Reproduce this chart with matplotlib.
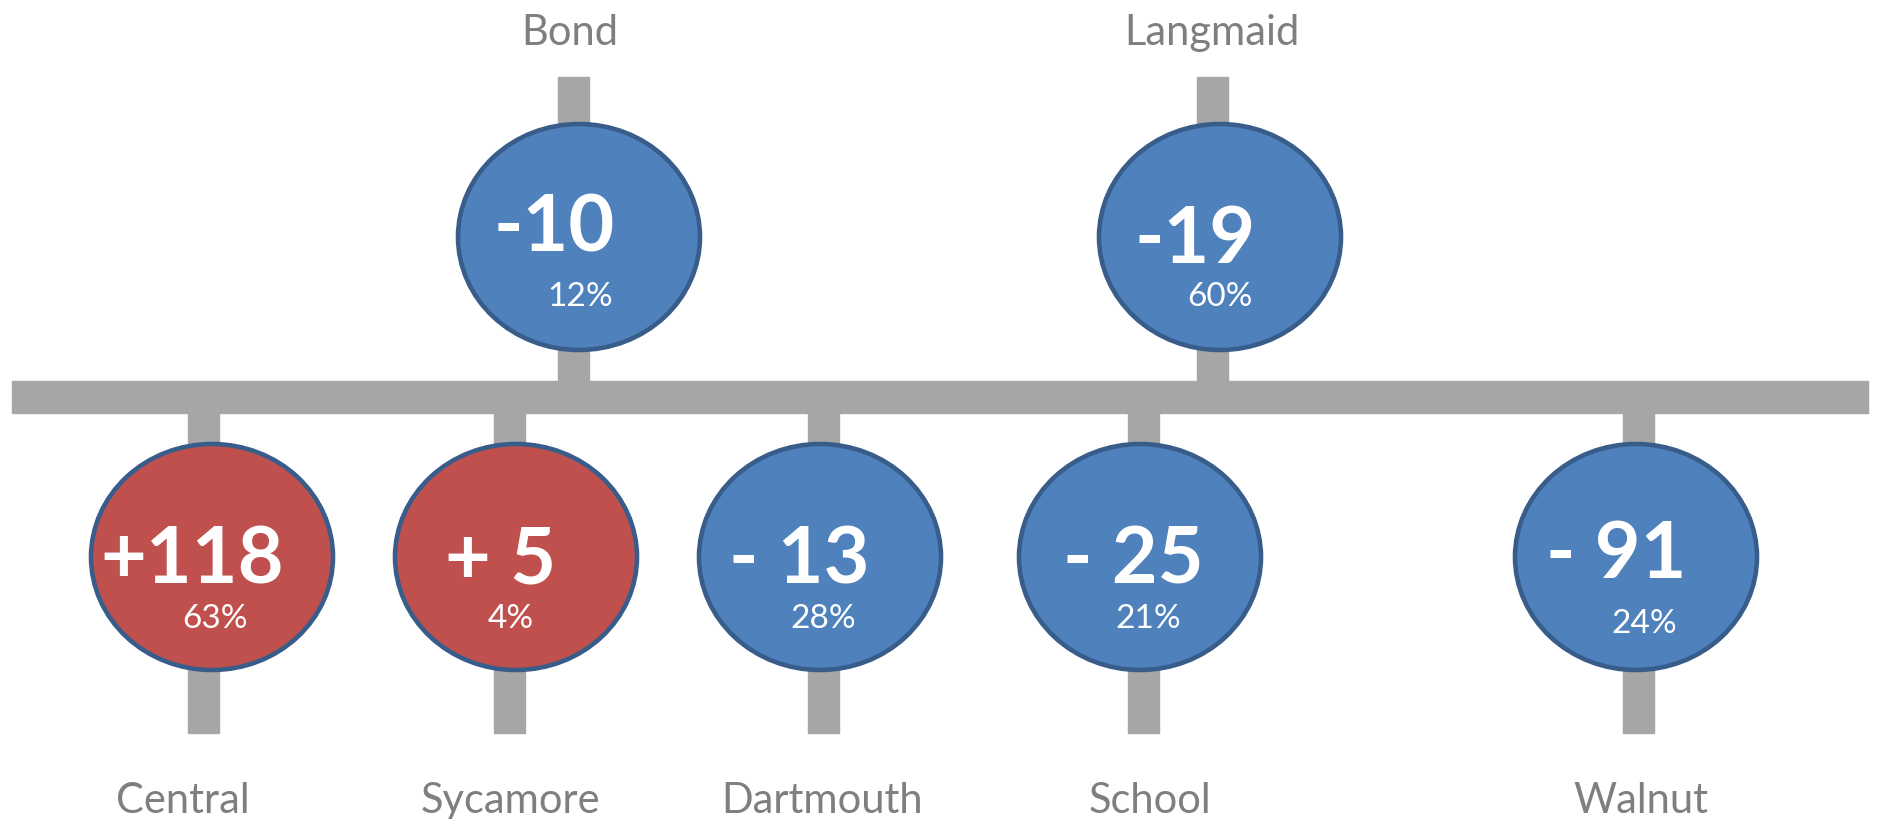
import matplotlib
matplotlib.use("Agg")
import matplotlib.pyplot as plt
from matplotlib.patches import Ellipse, Rectangle

# ---- data ----
stations = ["Central", "Sycamore", "Dartmouth", "School", "Walnut", "Bond", "Langmaid"]
changes = [118, 5, -13, -25, -91, -10, -19]
pcts = [63, 4, 28, 21, 24, 12, 60]
spaced = [False, True, True, True, True, False, False]  # gap between sign and number

# ---- layout (pixel coords, y downward) ----
W, H = 1877, 819
side = ["below", "below", "below", "below", "below", "above", "above"]
stub_x = [204, 510, 824, 1144, 1639, 574, 1213]
ell_x = [212, 516, 820, 1140, 1636, 579, 1220]
num_x = [192, 501, 799, 1133, 1616, 554, 1195]
num_base = [583, 583, 583, 583, 578, 252, 263]
pct_x = [215, 511, 823, 1148, 1644, 580, 1220]
pct_base = [628, 628, 628, 628, 633, 306, 306]
lab_x = [183, 510, 822, 1150, 1641, 570, 1212]

BAR = "#a6a6a6"
BLUE = "#4f81bd"
RED = "#c0504d"
EDGE = "#385d8a"
TXT = "#7f7f7f"
FONT = "Lato"

fig = plt.figure(figsize=(W / 100, H / 100), dpi=100)
ax = fig.add_axes([0, 0, 1, 1])
ax.set_xlim(0, W)
ax.set_ylim(H, 0)
ax.axis("off")

# main line
ax.add_patch(Rectangle((12, 381), 1856, 32, color=BAR, zorder=1))

for i, name in enumerate(stations):
    sx = stub_x[i]
    if side[i] == "below":
        ax.add_patch(Rectangle((sx - 15.5, 405), 31, 733 - 405, color=BAR, zorder=1))
        cy = 557
        ly = 813
    else:
        ax.add_patch(Rectangle((sx - 15.5, 77), 31, 390 - 77, color=BAR, zorder=1))
        cy = 237
        ly = 45
    col = RED if changes[i] > 0 else BLUE
    ax.add_patch(Ellipse((ell_x[i], cy), 242, 226, facecolor=col, edgecolor=EDGE,
                         linewidth=3.3, zorder=2))
    sign = "+" if changes[i] > 0 else "-"
    txt = sign + (" " if spaced[i] else "") + str(abs(changes[i]))
    ax.text(num_x[i], num_base[i], txt, ha="center", va="baseline", color="white",
            fontsize=57, fontweight="bold", family=FONT, zorder=3)
    ax.text(pct_x[i], pct_base[i], f"{pcts[i]}%", ha="center", va="baseline",
            color="white", fontsize=24, family=FONT, zorder=3)
    ax.text(lab_x[i], ly, name, ha="center", va="baseline", color=TXT,
            fontsize=30, family=FONT, zorder=3)

fig.savefig("out.png", dpi=100)
